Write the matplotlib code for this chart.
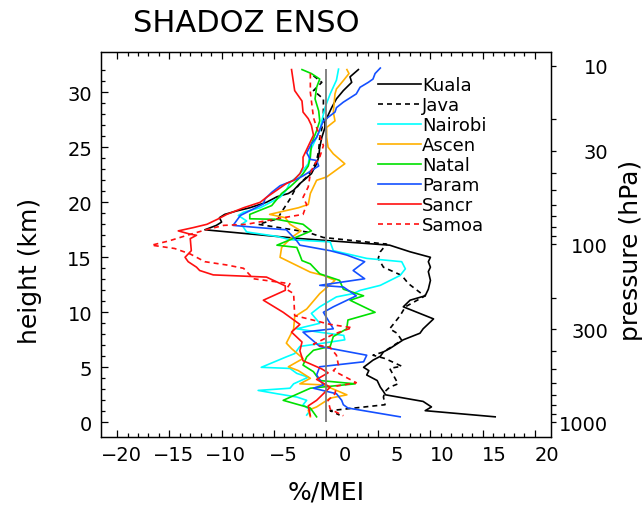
import numpy as np
import matplotlib
matplotlib.use("Agg")
import matplotlib.pyplot as plt
from matplotlib.transforms import ScaledTranslation

# ozone regression on MEI (%/MEI) against height (km), one profile per SHADOZ site
kuala_z = [32.06, 31.4, 30.9, 30.15, 29.4, 28.6, 27.3, 26.8, 25.9, 25.0, 24.1, 23.5, 22.6, 22.1,
           21.7, 21.1, 20.8, 20.5, 20.0, 19.5, 19.2, 18.9, 18.6, 18.2, 17.9, 17.5, 16.7, 16.1,
           15.5, 15.0, 14.6, 14.1, 13.7, 12.9, 12.1, 11.5, 11.1, 10.5, 9.4, 8.5, 8.1, 7.5, 6.7,
           6.4, 6.0, 5.65, 5.0, 4.7, 4.3, 3.8, 3.2, 2.8, 2.5, 1.9, 1.4, 1.06, 0.5]
kuala_x = [3.1, 2.3, 2.46, 1.66, 1.0, 0.54, -0.1, -0.1, -0.4, -0.6, -0.7, -0.9, -1.4, -2.0,
           -2.5, -3.1, -3.6, -4.7, -5.7, -7.3, -8.6, -9.7, -10.2, -10.0, -10.5, -11.6, -2.5, 6.1,
           8.05, 10.0, 9.8, 10.0, 9.8, 10.0, 9.8, 9.5, 8.05, 7.4, 10.3, 9.3, 9.0, 7.4, 6.1,
           5.5, 5.2, 4.5, 3.6, 4.1, 3.9, 4.9, 5.2, 5.5, 5.7, 9.3, 10.1, 9.5, 16.2]

java_z = [31.5, 30.9, 30.15, 29.4, 28.5, 27.3, 25.9, 24.7, 23.8, 23.2, 22.3, 21.7, 21.1, 20.3,
          18.9, 18.5, 18.0, 17.3, 16.8, 16.2, 15.5, 14.9, 14.1, 13.35, 12.6, 11.8, 11.5, 10.5,
          9.7, 8.5, 8.1, 7.46, 6.4, 6.1, 5.8, 5.1, 4.9, 3.5, 3.2, 2.8, 2.3, 1.6, 1.06, 0.66]
java_x = [-1.2, -0.4, -1.2, -0.25, -0.25, -0.25, -0.6, -0.7, -0.9, -1.2, -1.85, -2.5, -3.0, -3.45,
          -4.4, -4.6, -6.5, -1.85, -0.25, 5.8, 5.2, 5.0, 5.5, 7.25, 7.9, 9.0, 9.5, 7.6,
          7.1, 6.1, 6.8, 7.25, 5.5, 4.5, 5.65, 7.25, 6.1, 6.9, 6.1, 5.65, 5.5, 5.65, 0.4, 1.3]

nairobi_z = [32.1, 31.1, 29.85, 28.6, 27.4, 26.5, 25.9, 25.3, 24.7, 23.5, 22.9, 22.3, 21.8, 21.1,
             20.45, 19.5, 19.1, 18.8, 18.3, 18.0, 17.3, 16.9, 16.6, 16.4, 15.6, 14.9, 14.6, 13.95,
             13.35, 12.45, 12.0, 11.7, 11.4, 10.5, 9.9, 9.0, 8.5, 8.2, 7.9, 7.5, 7.2, 6.9, 6.25,
             5.95, 5.0, 4.9, 4.45, 4.1, 3.5, 3.1, 2.9, 2.6, 2.3, 2.0, 1.6, 1.1, 0.66]
nairobi_x = [1.2, 1.0, 0.4, -0.1, -0.4, -0.6, -0.9, -1.2, -1.5, -1.7, -2.2, -2.8, -3.45, -3.8,
             -4.4, -6.3, -7.9, -8.4, -7.6, -8.1, -7.6, -4.7, -3.45, 0.4, 0.7, 3.9, 7.25, 7.6,
             7.1, 5.2, 3.3, 2.6, 1.0, -0.6, -1.4, -0.6, -2.8, -0.7, 1.7, 1.8, -0.25, -2.5, -3.0,
             -3.8, -6.2, -3.45, -2.8, -1.7, -3.1, -3.45, -6.5, -4.7, -2.8, -1.85, -2.2, -1.5, -1.85]

ascen_z = [32.06, 31.7, 31.06, 30.3, 29.85, 28.2, 27.4, 26.8, 25.9, 25.0, 24.4, 23.5, 22.3, 22.0,
           21.4, 20.8, 19.8, 19.5, 18.9, 18.6, 18.0, 17.4, 16.8, 15.9, 15.0, 13.65, 13.35, 12.9,
           11.7, 10.3, 9.6, 8.5, 7.2, 6.7, 5.8, 5.05, 4.7, 4.0, 3.5, 3.4, 2.5, 2.2, 1.4, 1.1, 0.5]
ascen_x = [2.0, 2.2, 1.66, 1.0, 0.86, 0.7, 0.86, 0.06, 0.06, 0.2, 0.7, 1.8, 0.06, -0.9,
           -1.2, -1.5, -1.7, -2.65, -5.4, -3.9, -3.45, -2.4, -3.3, -4.25, -4.4, -1.5, -0.25, 0.86,
           -0.6, -1.85, -3.0, -3.1, -3.8, -3.3, -2.2, -3.6, -2.65, -1.5, -2.5, -0.25, 2.0, 0.4,
           -0.9, -1.7, -1.5]

natal_z = [32.06, 31.7, 31.2, 30.45, 29.4, 28.3, 27.4, 26.5, 25.3, 24.1, 23.3, 22.6, 22.1, 21.4,
           20.8, 19.7, 18.9, 18.5, 18.45, 18.0, 17.4, 16.1, 15.9, 15.2, 14.7, 14.4, 13.5, 12.9,
           12.1, 11.5, 11.1, 10.0, 9.3, 8.5, 7.8, 6.9, 6.55, 5.95, 5.2, 4.6, 3.8, 3.5, 3.1, 2.0,
           1.3, 0.5]
natal_x = [-2.3, -1.4, -0.6, -0.9, -1.05, -0.7, -0.6, -0.9, -1.4, -1.5, -1.7, -2.2, -2.65, -3.45,
           -4.25, -5.2, -7.3, -7.3, -4.7, -2.2, -1.4, -4.7, -2.8, -2.5, -2.3, -1.5, -0.6, 1.3,
           1.66, 3.6, 2.3, 4.7, 2.1, 1.98, 0.7, 0.4, -1.2, -1.85, -2.2, -1.2, -0.6, 2.8, -1.5, -4.1,
           -1.5, -0.9]

param_z = [32.2, 31.7, 31.2, 30.9, 30.45, 29.85, 29.1, 28.6, 28.2, 27.4, 25.9, 25.3, 24.5, 23.9,
           23.8, 23.3, 22.4, 22.1, 21.5, 20.9, 20.3, 19.85, 18.8, 17.9, 17.7, 17.5, 16.5, 16.1,
           15.6, 15.2, 14.6, 13.8, 13.05, 12.45, 12.3, 11.5, 10.5, 10.0, 8.5, 8.2, 6.9, 6.1, 5.5,
           5.05, 4.3, 3.4, 3.1, 2.6, 2.0, 1.6, 1.3, 0.5]
param_x = [5.2, 4.7, 4.5, 4.05, 3.26, 2.9, 1.66, 1.0, 0.86, -0.25, -0.9, -1.4, -1.85, -1.5,
           -0.9, -0.7, -2.2, -2.8, -4.4, -5.2, -5.85, -6.0, -8.2, -8.9, -6.5, -3.8, -2.8, -2.5,
           0.4, 2.0, 3.7, 2.6, 3.7, -0.6, 1.66, 2.9, 0.7, -0.25, 0.7, -2.2, -0.6, 3.9, 3.6,
           -0.6, -0.9, -0.25, -1.2, 1.0, 1.5, 1.66, 2.1, 7.1]

sancr_z = [32.06, 30.15, 29.2, 28.2, 27.6, 27.0, 26.1, 24.1, 23.2, 22.6, 22.0, 21.7, 20.45, 20.0,
           19.5, 18.9, 18.5, 18.0, 17.7, 17.4, 17.1, 17.0, 16.7, 15.6, 15.0, 14.6, 14.1, 13.8,
           13.4, 13.3, 13.2, 12.4, 12.0, 11.1, 10.0, 8.9, 8.2, 7.3, 6.5, 5.6, 4.85, 4.5, 3.9, 3.2,
           2.0, 1.5, 0.6]
sancr_x = [-3.3, -3.0, -2.3, -2.2, -1.7, -1.4, -1.2, -2.2, -2.2, -2.5, -3.1, -3.8, -5.7, -6.3,
           -7.9, -9.5, -10.3, -11.4, -12.7, -14.15, -13.0, -12.4, -13.0, -12.9, -13.5, -13.2, -12.4, -12.1,
           -10.8, -8.2, -5.7, -3.9, -3.9, -6.0, -4.1, -2.5, -3.3, -2.3, -2.5, -2.2, -0.4, 0.2, -0.9, 0.4,
           -0.9, -1.7, -1.5]

samoa_z = [31.7, 30.0, 27.7, 26.8, 25.15, 24.1, 23.3, 22.6, 21.4, 20.45, 19.8, 18.9, 18.5, 18.0,
           17.9, 17.5, 17.0, 16.5, 16.1, 15.8, 15.3, 14.6, 14.3, 14.0, 13.05, 12.6, 12.1, 11.7,
           9.7, 9.4, 8.9, 8.6, 8.0, 7.1, 6.8, 6.1, 5.15, 4.7, 3.6, 3.3, 2.6, 2.0, 1.2, 0.6]
samoa_x = [-1.5, -1.5, -1.2, -0.9, -0.25, -0.6, -1.2, -1.5, -1.7, -2.2, -1.85, -2.2, -4.7, -7.6,
           -9.8, -11.5, -13.3, -15.0, -16.7, -14.5, -13.0, -11.6, -9.5, -7.9, -6.95, -3.45, -3.8, -3.1,
           -3.0, -1.7, 0.4, 2.5, 0.7, -1.2, 0.4, 1.0, 1.2, 0.7, 2.9, 1.0, 0.86, 0.2, 0.4, 1.66]

dash = (0, (3.0, 2.4))
stations = [
    ("Kuala", kuala_x, kuala_z, "black", "-"),
    ("Java", java_x, java_z, "black", dash),
    ("Nairobi", nairobi_x, nairobi_z, "#00ffff", "-"),
    ("Ascen", ascen_x, ascen_z, "#ffb000", "-"),
    ("Natal", natal_x, natal_z, "#00e000", "-"),
    ("Param", param_x, param_z, "#1450ff", "-"),
    ("Sancr", sancr_x, sancr_z, "#ff1010", "-"),
    ("Samoa", samoa_x, samoa_z, "#ff1010", dash),
]

# right-hand pressure axis, mapped to height with a 16.2 km per decade scale
press_major = [10, 30, 100, 300, 1000]
press_minor = [20, 40, 50, 60, 70, 80, 90, 200, 400, 500, 600, 700, 800, 900]
km_per_decade = 16.2
zero_line_top = 32.1

plt.rcParams["font.family"] = "DejaVu Sans"

fig = plt.figure(figsize=(6.42, 5.06), dpi=100)
ax = fig.add_axes([0.1573, 0.1338, 0.701, 0.7615])

for name, x, z, col, ls in stations:
    ax.plot(x, z, color=col, linestyle=ls, lw=1.2, label=name)

ax.vlines(0, 0, zero_line_top, color="#7a7a7a", lw=1.3)

ax.set_xlim(-21.55, 21.55)
ax.set_ylim(-1.36, 33.66)
ax.set_xticks(np.arange(-20, 21, 5))
ax.set_xticks(np.arange(-20, 21, 1), minor=True)
ax.set_yticks(np.arange(0, 31, 5))
ax.set_yticks(np.arange(0, 33, 1), minor=True)
ax.tick_params(which="both", direction="in", top=True, right=False, labelsize=14, width=0.9)
ax.tick_params(which="major", length=4.8)
ax.tick_params(which="minor", length=2.9)
ax.tick_params(axis="y", pad=6.3)
ax.tick_params(axis="x", pad=5.5)
for s in ax.spines.values():
    s.set_linewidth(0.9)

# x labels sit to the right of their ticks
shift = ScaledTranslation(0.245, 0, fig.dpi_scale_trans)
for lab in ax.get_xticklabels():
    lab.set_horizontalalignment("right")
    lab.set_transform(lab.get_transform() + shift)

ax2 = ax.twinx()
ax2.set_ylim(ax.get_ylim())
ax2.set_yticks([km_per_decade * np.log10(1000 / p) for p in press_major],
               labels=[str(p) for p in press_major])
ax2.set_yticks([km_per_decade * np.log10(1000 / p) for p in press_minor], minor=True)
ax2.tick_params(which="both", direction="out", length=3.6, width=0.9, labelsize=14, pad=37.5)
for lab in ax2.get_yticklabels():
    lab.set_horizontalalignment("right")
for s in ax2.spines.values():
    s.set_linewidth(0.9)

ax.legend(loc="upper left", bbox_to_anchor=(0.6156, 0.9377), frameon=False, fontsize=13,
          handlelength=2.39, handletextpad=0.05, labelspacing=0.11, borderpad=0, borderaxespad=0)

fig.text(133 / 642, 1 - 32.3 / 506, "SHADOZ ENSO", ha="left", va="baseline", fontsize=22)
fig.text(326 / 642, 6 / 506, "%/MEI", ha="center", va="baseline", fontsize=18)
fig.text(30 / 642, 1 - 271 / 506, "height (km)", rotation=90, ha="center", va="center", fontsize=18)
fig.text(631 / 642, 1 - 250 / 506, "pressure (hPa)", rotation=90, ha="center", va="center",
         fontsize=18)

fig.savefig("out.png", dpi=100)
